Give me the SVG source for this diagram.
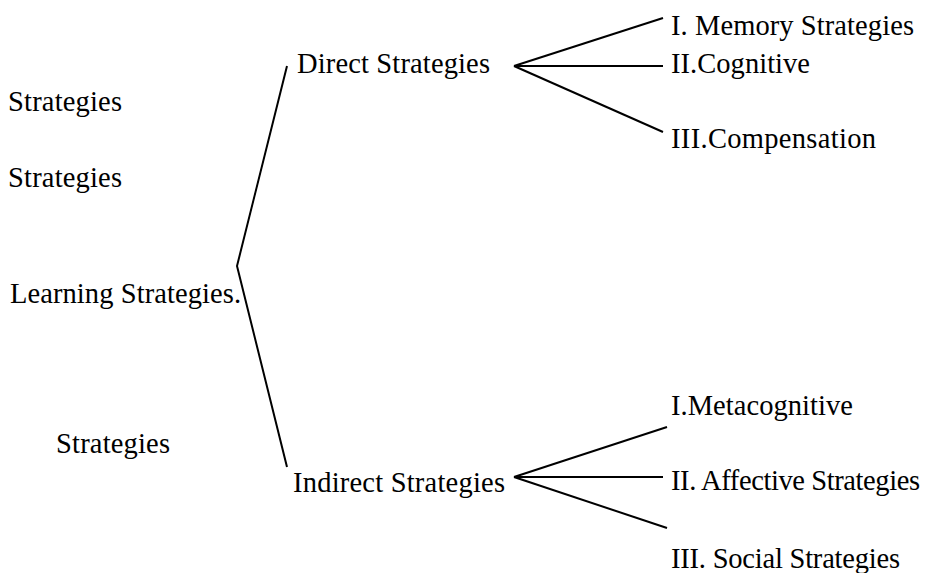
<svg xmlns="http://www.w3.org/2000/svg" width="934" height="573" viewBox="0 0 934 573">
<style>
.t{font-family:"Liberation Serif",serif;font-size:28.5px;fill:#000}
.c{fill:none;stroke:#000;stroke-width:2;stroke-linejoin:miter}
</style>
<rect width="934" height="573" fill="#fff"/>
<g id="connectors">
<polyline class="c" points="287,66 237,266 287,467"/>
<line class="c" x1="514" y1="66" x2="663" y2="18"/>
<line class="c" x1="514" y1="66" x2="663" y2="66"/>
<line class="c" x1="514" y1="66" x2="663" y2="132"/>
<line class="c" x1="514" y1="477" x2="667" y2="427"/>
<line class="c" x1="514" y1="477" x2="663" y2="477"/>
<line class="c" x1="514" y1="477" x2="667" y2="528"/>
</g>
<g id="side1"><text class="t" x="8" y="111" textLength="114">Strategies</text></g>
<g id="side2"><text class="t" x="8" y="187" textLength="114">Strategies</text></g>
<g id="root"><text class="t" x="10" y="303" textLength="231">Learning Strategies.</text></g>
<g id="side3"><text class="t" x="56" y="453" textLength="114">Strategies</text></g>
<g id="direct"><text class="t" x="297" y="73" textLength="193">Direct Strategies</text></g>
<g id="indirect"><text class="t" x="293" y="492" textLength="212">Indirect Strategies</text></g>
<g id="memory"><text class="t" x="671" y="35" textLength="243">I. Memory Strategies</text></g>
<g id="cognitive"><text class="t" x="671" y="73" textLength="139">II.Cognitive</text></g>
<g id="compensation"><text class="t" x="671" y="148" textLength="205">III.Compensation</text></g>
<g id="metacognitive"><text class="t" x="671" y="415" textLength="182">I.Metacognitive</text></g>
<g id="affective"><text class="t" x="671" y="490" textLength="249">II. Affective Strategies</text></g>
<g id="social"><text class="t" x="671" y="568" textLength="229">III. Social Strategies</text></g>
</svg>
